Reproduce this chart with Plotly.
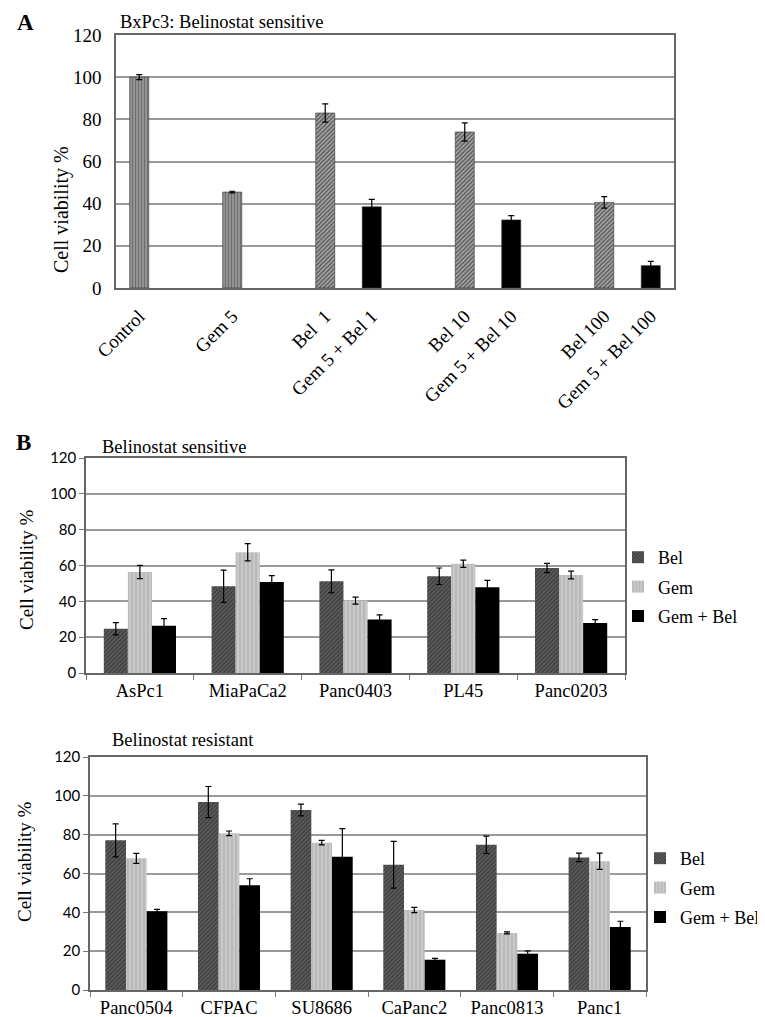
import plotly.graph_objects as go

# ---------------- data ----------------
# Panel A (BxPc3)
a_groups = [["Control"], ["Gem 5"], ["Bel  1", "Gem 5 + Bel 1"],
            ["Bel 10", "Gem 5 + Bel 10"], ["Bel 100", "Gem 5 + Bel 100"]]
a_kinds = ["ctrl", "gem", "bel", "combo", "bel", "combo", "bel", "combo"]
a_values = [100, 45.5, 83, 38.5, 74, 32.3, 40.6, 10.6]
a_errors = [1.2, 0.4, 4.3, 3.5, 4.3, 2.0, 2.7, 2.0]

# Panel B, sensitive lines
b1_cells = ["AsPc1", "MiaPaCa2", "Panc0403", "PL45", "Panc0203"]
b1_bel = [24.7, 48.4, 51.2, 54.0, 58.6]
b1_bel_err = [3.4, 9.0, 6.4, 4.6, 2.6]
b1_gem = [56.4, 67.4, 40.4, 61.0, 54.7]
b1_gem_err = [3.7, 4.8, 2.0, 2.0, 2.2]
b1_combo = [26.4, 50.8, 29.8, 47.8, 27.9]
b1_combo_err = [3.9, 3.5, 2.6, 3.9, 1.9]

# Panel B, resistant lines
b2_cells = ["Panc0504", "CFPAC", "SU8686", "CaPanc2", "Panc0813", "Panc1"]
b2_bel = [77.1, 96.8, 92.7, 64.5, 74.8, 68.3]
b2_bel_err = [8.5, 8.0, 3.0, 12.0, 4.5, 2.2]
b2_gem = [67.8, 80.7, 75.9, 41.2, 29.4, 66.3]
b2_gem_err = [2.6, 1.2, 1.2, 1.4, 0.5, 4.2]
b2_combo = [40.5, 53.9, 68.6, 15.6, 18.7, 32.4]
b2_combo_err = [1.0, 3.4, 14.5, 0.7, 1.5, 3.0]

series_names = ["Bel", "Gem", "Gem + Bel"]

# ---------------- styles ----------------
SERIF = "Liberation Serif"
SANS = "Lato"
W, H = 765, 1017

styles = {
    "ctrl": dict(color="#9a9a9a", pattern=dict(shape="|", fgcolor="#555555", size=3, solidity=0.45)),
    "gem": dict(color="#9a9a9a", pattern=dict(shape="|", fgcolor="#555555", size=3, solidity=0.45)),
    "bel": dict(color="#5e5e5e", pattern=dict(shape="/", fgcolor="#1e1e1e", size=3, solidity=0.5)),
    "combo": dict(color="#000000"),
    "gemB": dict(color="#c9c9c9", pattern=dict(shape="|", fgcolor="#9a9a9a", size=4, solidity=0.35)),
}


def px_x(p):
    return p / W


def px_y(p):
    return 1 - p / H


fig = go.Figure()

# ---------------- Panel A ----------------
a_labels, a_pos = [], []
slot = 0
for g in a_groups:
    for lab in g:
        a_labels.append(lab)
        a_pos.append(slot)
        slot += 1
    slot += 1  # empty slot between groups
last_slot = a_pos[-1]

fig.add_trace(go.Bar(
    x=a_pos, y=a_values, width=0.41,
    marker=dict(
        color=[styles[k]["color"] for k in a_kinds],
        pattern=dict(
            shape=[styles[k].get("pattern", {}).get("shape", "") for k in a_kinds],
            fgcolor=[styles[k].get("pattern", {}).get("fgcolor", "#000") for k in a_kinds],
            size=3, solidity=0.45),
        line=dict(width=0.6, color="#333333")),
    error_y=dict(type="data", array=a_errors, color="#000", thickness=1.2, width=3),
    showlegend=False, xaxis="x", yaxis="y"))

# ---------------- Panel B ----------------
def add_group(cells, vals, errs, xa, ya, legend):
    keys = ["bel", "gemB", "combo"]
    for i, (name, v, e) in enumerate(zip(series_names, vals, errs)):
        st = styles[keys[i]]
        mk = dict(color=st["color"], line=dict(width=0))
        if "pattern" in st:
            mk["pattern"] = st["pattern"]
        fig.add_trace(go.Bar(
            x=cells, y=v, name=name, marker=mk,
            error_y=dict(type="data", array=e, color="#000", thickness=1.2, width=3),
            xaxis=xa, yaxis=ya, legend=legend, legendgroup=legend + name))


add_group(b1_cells, [b1_bel, b1_gem, b1_combo], [b1_bel_err, b1_gem_err, b1_combo_err],
          "x2", "y2", "legend")
add_group(b2_cells, [b2_bel, b2_gem, b2_combo], [b2_bel_err, b2_gem_err, b2_combo_err],
          "x3", "y3", "legend2")

grid = dict(showgrid=True, gridcolor="#9a9a9a", gridwidth=1.5)
frame = dict(showline=True, linecolor="#666666", linewidth=1.5, mirror=True, automargin=False)

fig.update_layout(
    width=W, height=H, margin=dict(l=0, r=0, t=0, b=0),
    paper_bgcolor="white", plot_bgcolor="white",
    barmode="group", bargap=0.33, bargroupgap=0,
    font=dict(family=SERIF, color="#000"),
    # Panel A axes
    xaxis=dict(domain=[px_x(108), px_x(666)], anchor="y", range=[-0.5, last_slot + 0.5],
               tickvals=a_pos, ticktext=a_labels, tickangle=-45, showgrid=False,
               tickfont=dict(family=SERIF, size=19), ticks="", zeroline=False,
               ticklabelstandoff=8, **frame),
    yaxis=dict(domain=[px_y(280), px_y(27)], anchor="x", range=[0, 120], dtick=20,
               tickfont=dict(family=SERIF, size=19), ticks="", zeroline=False,
               ticklabelstandoff=9, **grid, **frame),
    # Panel B1 axes
    xaxis2=dict(domain=[px_x(78), px_x(617)], anchor="y2", showgrid=False,
                tickfont=dict(family=SERIF, size=18.5), ticks="outside", tickson="boundaries",
                ticklen=5, tickcolor="#777", zeroline=False, **frame),
    yaxis2=dict(domain=[px_y(665), px_y(450)], anchor="x2", range=[0, 120], dtick=20,
                tickfont=dict(family=SANS, size=15), ticks="outside", ticklen=5,
                tickcolor="#777", zeroline=False, **grid, **frame),
    # Panel B2 axes
    xaxis3=dict(domain=[px_x(82), px_x(638)], anchor="y3", showgrid=False,
                tickfont=dict(family=SERIF, size=18.5), ticks="outside", tickson="boundaries",
                ticklen=5, tickcolor="#777", zeroline=False, **frame),
    yaxis3=dict(domain=[px_y(982), px_y(749)], anchor="x3", range=[0, 120], dtick=20,
                tickfont=dict(family=SANS, size=15), ticks="outside", ticklen=5,
                tickcolor="#777", zeroline=False, **grid, **frame),
    legend=dict(x=px_x(610), y=px_y(579), xanchor="left", yanchor="middle",
                font=dict(family=SERIF, size=18), tracegroupgap=3, bgcolor="rgba(0,0,0,0)"),
    legend2=dict(x=px_x(632), y=px_y(880), xanchor="left", yanchor="middle",
                 font=dict(family=SERIF, size=18), tracegroupgap=3, bgcolor="rgba(0,0,0,0)"),
)

annos = [
    dict(text="<b>A</b>", x=px_x(17), y=px_y(15), size=23),
    dict(text="BxPc3: Belinostat sensitive", x=px_x(110), y=px_y(14), size=18.5, xanchor="left"),
    dict(text="Cell viability %", x=px_x(53), y=px_y(202), size=20, angle=-90),
    dict(text="<b>B</b>", x=px_x(15), y=px_y(435), size=23),
    dict(text="Belinostat sensitive", x=px_x(92), y=px_y(439), size=18.5, xanchor="left"),
    dict(text="Cell viability %", x=px_x(18), y=px_y(562), size=19, angle=-90),
    dict(text="Belinostat resistant", x=px_x(102), y=px_y(732), size=18.5, xanchor="left"),
    dict(text="Cell viability %", x=px_x(16), y=px_y(854), size=19, angle=-90),
]
for a in annos:
    fig.add_annotation(text=a["text"], x=a["x"], y=a["y"], xref="paper", yref="paper",
                       showarrow=False, xanchor=a.get("xanchor", "center"), yanchor="middle",
                       textangle=a.get("angle", 0),
                       font=dict(family=SERIF, size=a["size"], color="#000"))

fig.write_html("out.html")
